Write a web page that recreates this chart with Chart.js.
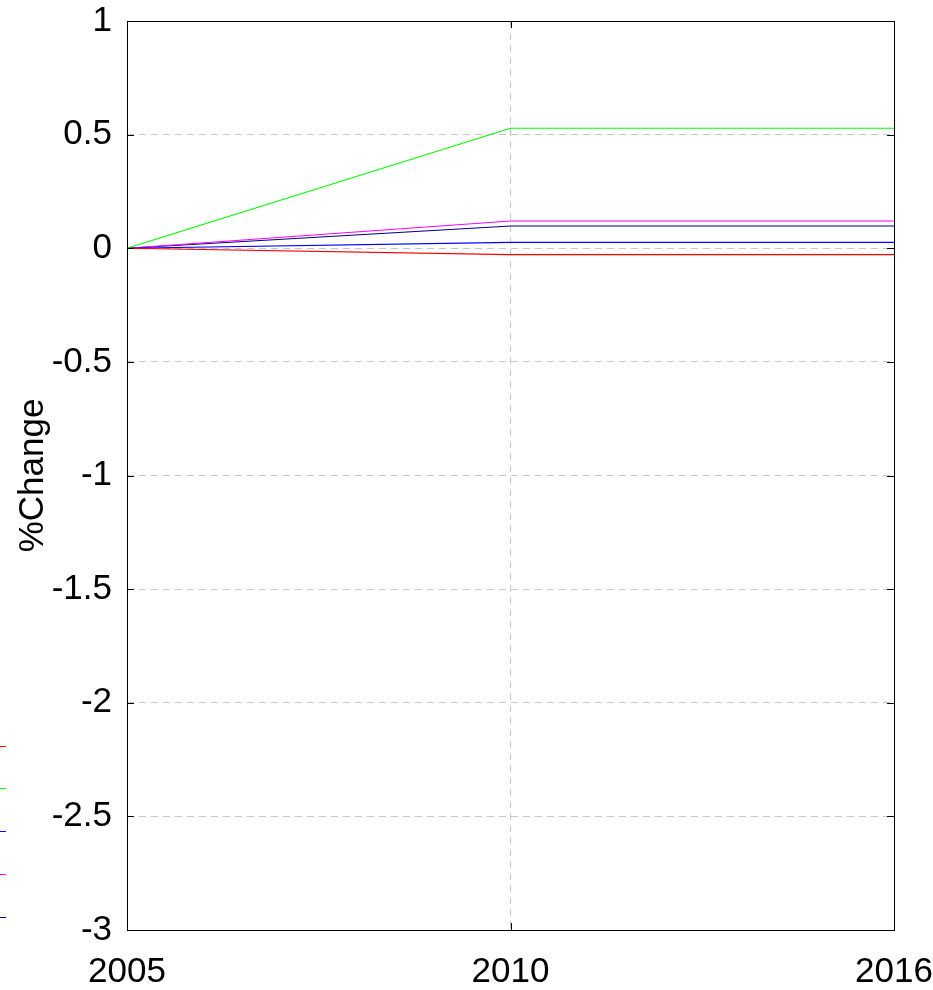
<!DOCTYPE html>
<html>
<head>
<meta charset="utf-8">
<script src="https://cdn.jsdelivr.net/npm/chart.js@4/dist/chart.umd.min.js"></script>
<style>
html,body{margin:0;padding:0;background:#fff;}
#wrap{width:933px;height:990px;position:relative;}
</style>
</head>
<body>
<div id="wrap"><canvas id="c" width="933" height="990"></canvas></div>
<script>
const years = ['2005', '2010', '2016'];
const seriesNames = ['Series 1', 'Series 2', 'Series 3', 'Series 4', 'Series 5'];
const seriesColors = ['#ff0000', '#00ff00', '#0000ff', '#ff00ff', '#000080'];
const series1 = [0, -0.028, -0.028];
const series2 = [0, 0.528, 0.528];
const series3 = [0, 0.026, 0.026];
const series4 = [0, 0.120, 0.120];
const series5 = [0, 0.098, 0.098];
const yTicks = [1, 0.5, 0, -0.5, -1, -1.5, -2, -2.5, -3];

const allSeries = [series1, series2, series3, series4, series5];
const FONT = '"Liberation Sans", Arial, sans-serif';

const frame = {
  id: 'frame',
  afterDraw(chart) {
    const {ctx, chartArea: a} = chart;
    const xs = chart.scales.x, ys = chart.scales.y;
    ctx.save();
    ctx.strokeStyle = '#000';
    ctx.lineWidth = 1;
    ctx.setLineDash([]);
    ctx.strokeRect(Math.round(a.left) + 0.5, Math.round(a.top) + 0.5,
                   Math.round(a.right - a.left), Math.round(a.bottom - a.top));
    ctx.beginPath();
    yTicks.forEach(v => {
      const p = Math.round(ys.getPixelForValue(v)) + 0.5;
      ctx.moveTo(a.left, p); ctx.lineTo(a.left + 7, p);
      ctx.moveTo(a.right, p); ctx.lineTo(a.right - 7, p);
    });
    years.forEach((y, i) => {
      const p = Math.round(xs.getPixelForValue(i)) + 0.5;
      ctx.moveTo(p, a.bottom); ctx.lineTo(p, a.bottom - 7);
      ctx.moveTo(p, a.top); ctx.lineTo(p, a.top + 7);
    });
    ctx.stroke();
    // legend remnants (legend box lies off the left edge)
    chart.data.datasets.forEach((ds, i) => {
      const yy = 745.5 + i * 42.75;
      ctx.strokeStyle = ds.borderColor;
      ctx.beginPath();
      ctx.moveTo(0, Math.round(yy) + 0.5);
      ctx.lineTo(6, Math.round(yy) + 0.5);
      ctx.stroke();
    });
    ctx.restore();
  }
};

new Chart(document.getElementById('c'), {
  type: 'line',
  data: {
    labels: years,
    datasets: allSeries.map((d, i) => ({
      label: seriesNames[i],
      data: d,
      borderColor: seriesColors[i],
      backgroundColor: seriesColors[i],
      borderWidth: 1.2,
      pointRadius: 0,
      tension: 0,
      fill: false
    }))
  },
  options: {
    responsive: false,
    animation: false,
    devicePixelRatio: 1,
    layout: {padding: {top: 21, right: 39, left: 0, bottom: 0}},
    plugins: {legend: {display: false}, tooltip: {enabled: false}},
    scales: {
      x: {
        type: 'category',
        offset: false,
        grid: {display: true, color: '#c8c8c8', lineWidth: 1, drawTicks: false, tickLength: 0},
        border: {display: false, dash: [7, 5]},
        ticks: {color: '#000', font: {family: FONT, size: 35}, padding: 21, maxRotation: 0, autoSkip: false},
        afterFit(s) { s.height = 60; s.paddingLeft = 0; s.paddingRight = 0; }
      },
      y: {
        min: -3, max: 1,
        afterBuildTicks(s) { s.ticks = yTicks.map(v => ({value: v})); },
        grid: {display: true, color: '#c8c8c8', lineWidth: 1, drawTicks: false, tickLength: 0},
        border: {display: false, dash: [7, 5]},
        ticks: {color: '#000', font: {family: FONT, size: 35}, padding: 15,
                callback: v => String(v)},
        title: {display: true, text: '%Change', color: '#000', font: {family: FONT, size: 35}, padding: {top: 12, bottom: 0}},
        afterFit(s) { s.width = 127; s.paddingTop = 0; s.paddingBottom = 0; }
      }
    }
  },
  plugins: [frame]
});
</script>
</body>
</html>
